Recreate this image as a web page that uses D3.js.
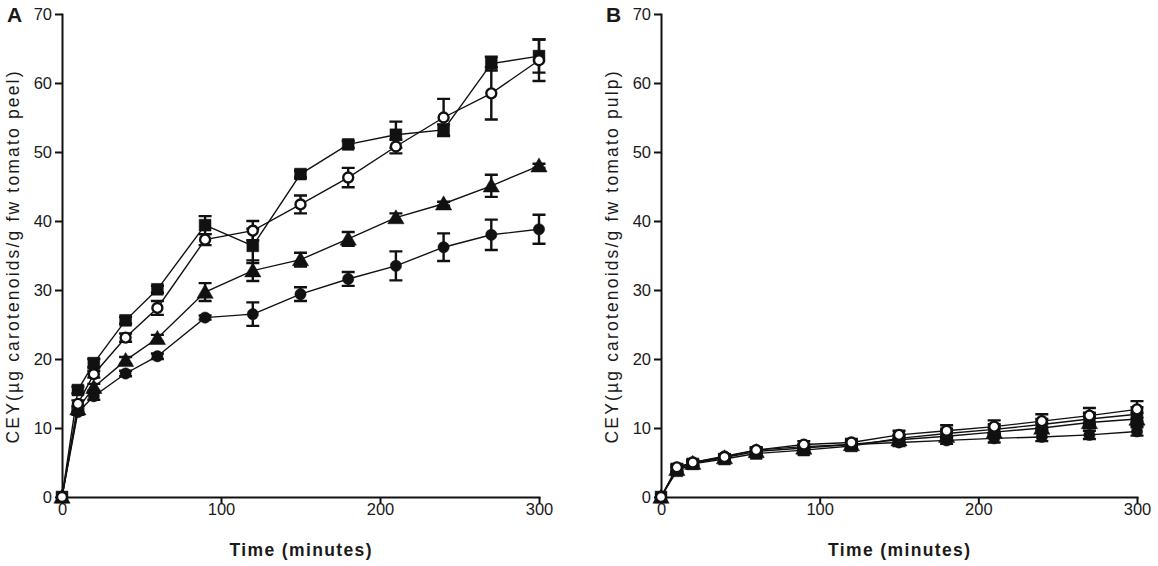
<!DOCTYPE html>
<html>
<head>
<meta charset="utf-8">
<script src="https://cdn.jsdelivr.net/npm/d3@7"></script>
<style>
	body { margin: 0; background: #fff; }
	text { font-family: "Liberation Sans", Arial, sans-serif; fill: #1a1a1a; }
	.axis path, .axis line { stroke: #111; stroke-width: 2; }
	.axis text { font-size: 16.5px; }
</style>
</head>
<body>
<div id="chart"></div>
<script>

///////////////////////////////////////////////////////////////////////////
//////////////////////////////// Data ////////////////////////////////////
///////////////////////////////////////////////////////////////////////////

var times = [0, 10, 20, 40, 60, 90, 120, 150, 180, 210, 240, 270, 300];
var xTicks = [0, 100, 200, 300];
var yTicks = [0, 10, 20, 30, 40, 50, 60, 70];

//Panel A - peel
var peelSquare     = [0, 15.5, 19.4, 25.6, 30.1, 39.4, 36.4, 46.8, 51.1, 52.5, 53.2, 62.8, 63.9];
var peelSquareSd   = [0, 0.5, 0.6, 0.5, 0.5, 1.3, 2.5, 0.5, 0.5, 1.9, 0.8, 1.0, 2.4];
var peelOpen       = [0, 13.5, 17.8, 23.1, 27.4, 37.3, 38.6, 42.4, 46.3, 50.8, 55.0, 58.5, 63.3];
var peelOpenSd     = [0, 0.5, 0.5, 0.6, 1.0, 0.8, 1.4, 1.3, 1.4, 1.0, 2.7, 3.8, 3.0];
var peelTriangle   = [0, 12.8, 15.9, 19.8, 23.0, 29.7, 32.8, 34.4, 37.4, 40.5, 42.5, 45.1, 48.0];
var peelTriangleSd = [0, 0.4, 0.5, 0.5, 0.5, 1.3, 1.5, 1.0, 1.0, 0.6, 0.3, 1.6, 0.3];
var peelCircle     = [0, 12.3, 14.6, 17.9, 20.4, 26.0, 26.5, 29.4, 31.6, 33.5, 36.2, 38.0, 38.8];
var peelCircleSd   = [0, 0.4, 0.5, 0.4, 0.4, 0.3, 1.7, 1.0, 1.0, 2.1, 2.0, 2.2, 2.1];

//Panel B - pulp
var pulpSquare     = [0, 3.8, 4.8, 5.5, 6.3, 6.8, 7.4, 8.5, 9.2, 9.8, 10.5, 11.3, 12.0];
var pulpSquareSd   = [0, 0.4, 0.3, 0.3, 0.3, 0.4, 0.4, 0.5, 0.6, 0.7, 0.8, 0.9, 1.0];
var pulpOpen       = [0, 4.3, 5.0, 5.8, 6.8, 7.6, 7.9, 9.0, 9.6, 10.2, 11.0, 11.8, 12.7];
var pulpOpenSd     = [0, 0.5, 0.4, 0.4, 0.4, 0.5, 0.5, 0.6, 0.8, 0.9, 1.0, 1.1, 1.2];
var pulpTriangle   = [0, 4.0, 4.9, 5.7, 6.6, 7.1, 7.6, 8.3, 8.8, 9.4, 10.0, 10.8, 11.3];
var pulpTriangleSd = [0, 0.4, 0.3, 0.3, 0.3, 0.4, 0.4, 0.5, 0.6, 0.6, 0.7, 0.8, 0.9];
var pulpCircle     = [0, 4.2, 5.0, 5.9, 6.8, 7.3, 7.6, 7.9, 8.2, 8.5, 8.7, 9.0, 9.5];
var pulpCircleSd   = [0, 0.4, 0.3, 0.3, 0.3, 0.4, 0.4, 0.5, 0.5, 0.6, 0.6, 0.6, 0.6];

///////////////////////////////////////////////////////////////////////////
//////////////////// Set up and initiate svg containers ///////////////////
///////////////////////////////////////////////////////////////////////////

var width = 1158,
	height = 566;

var svg = d3.select("#chart")
	.append("svg")
	.attr("width", width)
	.attr("height", height);

var yTop = 14,
	yBottom = 497;

var panels = [
	{ letter: "A", x0: 62, x1: 539, label: "CEY(\u00b5g carotenoids/g fw tomato peel)",
	  series: [
		{ shape: "circle", mean: peelCircle, sd: peelCircleSd },
		{ shape: "triangle", mean: peelTriangle, sd: peelTriangleSd },
		{ shape: "square", mean: peelSquare, sd: peelSquareSd },
		{ shape: "open", mean: peelOpen, sd: peelOpenSd }
	  ] },
	{ letter: "B", x0: 661, x1: 1137, label: "CEY(\u00b5g carotenoids/g fw tomato pulp)",
	  series: [
		{ shape: "circle", mean: pulpCircle, sd: pulpCircleSd },
		{ shape: "triangle", mean: pulpTriangle, sd: pulpTriangleSd },
		{ shape: "square", mean: pulpSquare, sd: pulpSquareSd },
		{ shape: "open", mean: pulpOpen, sd: pulpOpenSd }
	  ] }
];

var symbols = {
	circle: d3.symbol().type(d3.symbolCircle).size(100),
	open: d3.symbol().type(d3.symbolCircle).size(78),
	square: d3.symbol().type(d3.symbolSquare).size(140),
	triangle: d3.symbol().type(d3.symbolTriangle).size(115)
};

///////////////////////////////////////////////////////////////////////////
///////////////////////////// Draw each panel /////////////////////////////
///////////////////////////////////////////////////////////////////////////

panels.forEach(function(p) {

	var x = d3.scaleLinear().domain([0, 300]).range([p.x0, p.x1]);
	var y = d3.scaleLinear().domain([0, 70]).range([yBottom, yTop]);

	var g = svg.append("g").attr("class", "panel" + p.letter);

	//Axes
	g.append("g")
		.attr("class", "axis")
		.attr("transform", "translate(0," + yBottom + ")")
		.call(d3.axisBottom(x).tickValues(xTicks).tickSize(7).tickSizeOuter(0).tickPadding(5));

	g.append("g")
		.attr("class", "axis")
		.attr("transform", "translate(" + p.x0 + ",0)")
		.call(d3.axisLeft(y).tickValues(yTicks).tickSize(7).tickSizeOuter(0).tickPadding(3));

	g.selectAll(".axis .tick text").attr("dy", "0.36em");
	g.selectAll(".axis .domain").attr("stroke-linecap", "square");

	//Panel letter
	g.append("text")
		.attr("x", p.x0 - 55)
		.attr("y", 22)
		.style("font-size", "21px")
		.style("font-weight", "bold")
		.text(p.letter);

	//Axis titles
	g.append("text")
		.attr("x", (p.x0 + p.x1) / 2)
		.attr("y", 556)
		.style("text-anchor", "middle")
		.style("font-size", "17.5px")
		.style("font-weight", "bold")
		.attr("textLength", 142)
		.attr("lengthAdjust", "spacing")
		.text("Time (minutes)");

	g.append("text")
		.attr("transform", "translate(" + (p.x0 - 43) + "," + ((yTop + yBottom) / 2 + 2) + ") rotate(-90)")
		.style("text-anchor", "middle")
		.style("font-size", "17.5px")
		.attr("textLength", 372)
		.attr("lengthAdjust", "spacing")
		.text(p.label);

	var line = d3.line()
		.x(function(d, i) { return x(times[i]); })
		.y(function(d) { return y(d); });

	//Lines first
	p.series.forEach(function(s) {
		g.append("path")
			.datum(s.mean)
			.attr("d", line)
			.style("fill", "none")
			.style("stroke", "#111")
			.style("stroke-width", 1.4);
	});

	//Error bars and markers
	p.series.forEach(function(s) {
		var pts = s.mean.map(function(m, i) { return { t: times[i], m: m, sd: s.sd[i] }; });
		var eb = g.append("g");
		eb.selectAll(".bar")
			.data(pts.filter(function(d) { return d.sd > 0; }))
			.enter().append("path")
			.attr("d", function(d) {
				var cx = x(d.t), hi = y(d.m + d.sd), lo = y(d.m - d.sd), w = 6.5;
				return "M" + (cx - w) + "," + hi + "H" + (cx + w) +
					"M" + cx + "," + hi + "V" + lo +
					"M" + (cx - w) + "," + lo + "H" + (cx + w);
			})
			.style("fill", "none")
			.style("stroke", "#111")
			.style("stroke-width", 2.4);

		eb.selectAll(".mark")
			.data(pts)
			.enter().append("path")
			.attr("transform", function(d) {
				var dy = s.shape === "triangle" ? 1.5 : 0;
				return "translate(" + x(d.t) + "," + (y(d.m) + dy) + ")";
			})
			.attr("d", symbols[s.shape])
			.style("fill", s.shape === "open" ? "#fff" : "#111")
			.style("stroke", "#111")
			.style("stroke-width", s.shape === "open" ? 2.4 : 0.5);
	});
});

</script>
</body>
</html>
